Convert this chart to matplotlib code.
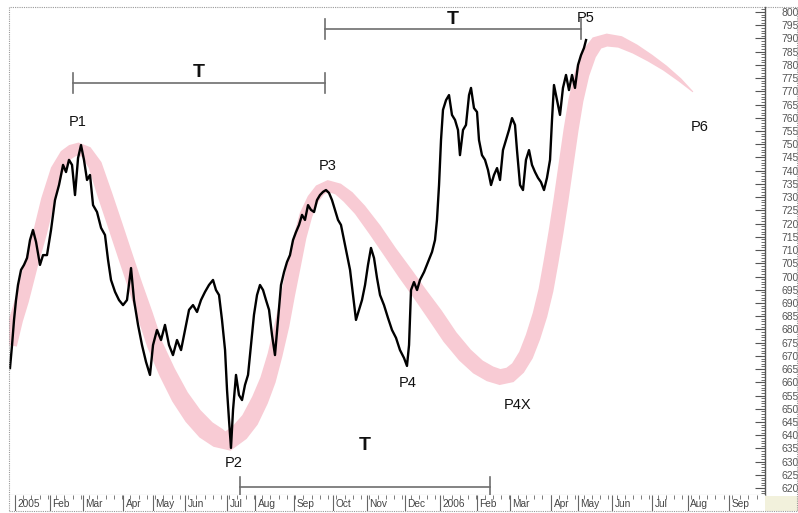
import numpy as np
import matplotlib
matplotlib.use('Agg')
import matplotlib.pyplot as plt
from matplotlib.patches import Rectangle

plt.rcParams['font.family'] = ['Liberation Sans', 'DejaVu Sans']

# Price series (x = weeks since start of Jan 2005)
weeks = [-0.61, -0.36, -0.12, 0.12, 0.36, 0.73, 1.09, 1.46, 1.82, 2.18,
         2.55, 3.03, 3.40, 3.88, 4.37, 4.85, 5.34, 5.83, 6.19, 6.55,
         6.92, 7.28, 7.65, 8.01, 8.37, 8.74, 9.10, 9.47, 9.95, 10.44,
         10.92, 11.29, 11.65, 12.14, 12.62, 13.11, 13.59, 14.08, 14.44, 14.93,
         15.41, 15.90, 16.38, 16.75, 17.23, 17.72, 18.20, 18.69, 19.17, 19.66,
         20.15, 20.63, 21.12, 21.60, 22.09, 22.57, 23.06, 23.54, 24.03, 24.39,
         24.76, 25.12, 25.49, 25.73, 25.97, 26.21, 26.46, 26.82, 27.18, 27.55,
         27.91, 28.28, 28.64, 29.00, 29.37, 29.73, 30.10, 30.46, 30.83, 31.19,
         31.55, 31.92, 32.28, 32.65, 33.01, 33.37, 33.74, 34.10, 34.47, 34.83,
         35.19, 35.56, 35.92, 36.29, 36.65, 37.01, 37.38, 37.74, 38.11, 38.47,
         38.83, 39.20, 39.56, 39.93, 40.29, 40.66, 41.02, 41.38, 41.75, 42.11,
         42.48, 42.84, 43.20, 43.57, 43.93, 44.30, 44.78, 45.27, 45.75, 46.24,
         46.72, 47.21, 47.57, 47.82, 48.06, 48.42, 48.79, 49.15, 49.64, 50.12,
         50.61, 50.97, 51.21, 51.46, 51.70, 51.94, 52.31, 52.67, 53.03, 53.40,
         53.76, 54.00, 54.37, 54.73, 55.10, 55.34, 55.70, 56.07, 56.31, 56.67,
         57.04, 57.40, 57.77, 58.13, 58.50, 58.86, 59.22, 59.59, 59.95, 60.32,
         60.68, 60.92, 61.29, 61.65, 62.01, 62.38, 62.74, 63.11, 63.47, 63.83,
         64.20, 64.56, 64.93, 65.17, 65.41, 65.78, 66.14, 66.50, 66.87, 67.23,
         67.60, 67.96, 68.33, 68.69, 69.05, 69.30]
close = [665.4, 674.1, 683.6, 691.1, 696.8, 702.5, 704.4, 707.0, 713.8, 717.6,
         713.1, 704.4, 708.1, 708.1, 717.6, 728.9, 734.6, 742.2, 739.5, 744.1,
         742.2, 730.8, 744.8, 749.7, 744.1, 736.5, 738.4, 727.0, 724.4, 718.4,
         715.7, 706.3, 698.7, 694.2, 691.1, 689.2, 691.1, 703.2, 691.1, 681.7,
         674.1, 667.7, 662.8, 674.1, 679.8, 676.0, 681.7, 674.1, 670.3, 676.0,
         672.2, 679.8, 687.4, 689.2, 686.6, 691.1, 694.2, 696.8, 698.7, 694.9,
         693.0, 683.6, 672.2, 657.1, 645.8, 635.2, 649.6, 662.8, 655.2, 653.3,
         659.0, 662.8, 674.1, 685.5, 693.0, 696.8, 694.9, 691.1, 687.4, 677.9,
         670.3, 683.6, 696.8, 701.7, 705.5, 708.1, 713.8, 716.8, 719.5, 723.3,
         721.4, 727.0, 725.2, 724.4, 728.9, 730.8, 732.0, 732.7, 731.6, 728.9,
         725.2, 721.4, 719.5, 713.8, 708.1, 702.5, 693.0, 683.6, 687.4, 691.1,
         696.8, 704.4, 710.8, 707.0, 699.5, 693.0, 689.2, 684.3, 679.8, 676.8,
         672.2, 669.2, 666.2, 674.1, 694.9, 697.9, 694.9, 698.7, 701.7, 705.5,
         709.3, 713.8, 721.4, 734.6, 751.6, 763.0, 766.7, 768.6, 761.1, 759.2,
         755.4, 745.9, 755.4, 757.3, 768.6, 771.3, 763.7, 762.2, 751.6, 745.9,
         744.1, 740.3, 734.6, 738.4, 741.0, 736.5, 747.8, 751.6, 755.4, 759.9,
         757.3, 747.8, 734.6, 732.7, 744.1, 747.8, 742.2, 739.5, 737.3, 735.7,
         732.7, 737.3, 744.1, 759.2, 772.4, 766.7, 761.1, 771.3, 776.2, 770.5,
         776.2, 771.3, 780.0, 783.7, 786.4, 789.4]

# Cycle band centre line
band_weeks = [-0.61, 0.12, 0.85, 1.94, 3.03, 4.00, 5.10, 6.19, 6.92, 7.65,
              8.62, 9.71, 10.92, 12.14, 13.35, 14.56, 15.78, 16.99, 18.45, 20.02,
              21.60, 23.18, 24.64, 25.85, 27.31, 28.52, 29.73, 30.70, 31.55, 32.40,
              33.13, 33.86, 34.59, 35.32, 36.17, 37.01, 37.99, 39.20, 40.41, 41.87,
              43.69, 45.51, 47.33, 49.15, 50.97, 52.79, 54.61, 56.19, 57.65, 58.86,
              60.07, 61.04, 62.01, 62.86, 63.71, 64.44, 65.05, 65.66, 66.26, 66.87,
              67.48, 68.08, 68.81, 69.66, 70.63, 71.84, 73.42, 75.24, 77.06, 78.88,
              80.70, 82.28]
band_price = [674.1, 683.6, 691.1, 704.4, 716.5, 728.9, 740.3, 745.9, 747.5, 748.2,
              747.1, 742.2, 730.8, 719.5, 708.1, 696.8, 685.5, 674.1, 663.9, 654.5,
              647.3, 642.0, 639.0, 637.8, 641.2, 645.8, 653.3, 660.9, 670.3, 681.7,
              693.0, 704.4, 715.0, 723.3, 729.3, 732.7, 734.2, 733.1, 730.1, 725.2,
              717.6, 709.3, 701.3, 693.4, 685.5, 677.1, 670.3, 665.8, 663.2, 662.0,
              662.8, 665.4, 670.3, 677.1, 685.5, 694.9, 705.5, 716.8, 728.9, 742.2,
              755.4, 766.7, 776.6, 784.1, 788.3, 789.4, 788.7, 786.0, 782.6, 778.8,
              774.3, 769.8]
# band thickness in pixels
band_width_px = [14, 14, 14, 14, 14, 14, 13, 13, 13, 13,
                 13, 14, 15, 15, 15, 15, 16, 16, 17, 18,
                 19, 20, 20, 20, 19, 18, 17, 16, 15, 15,
                 14, 14, 13, 13, 12, 12, 12, 12, 13, 13,
                 14, 14, 15, 15, 16, 16, 16, 16, 16, 16,
                 16, 15, 15, 15, 15, 15, 15, 15, 15, 15,
                 15, 15, 15, 15, 14, 13, 12, 10, 8, 6,
                 4, 1]

# Point labels
point_names = ['P1', 'P2', 'P3', 'P4', 'P4X', 'P5', 'P6']
point_weeks = [7.65, 26.58, 37.99, 47.69, 61.04, 69.30, 83.13]
point_price = [758.4, 629.5, 741.8, 659.8, 651.4, 797.7, 756.5]

# Period markers (start, end, level) and their T labels
period_start = [7.04, 37.62, 27.31]
period_end = [37.62, 68.69, 57.65]
period_level = [773.2, 793.6, 620.4]
period_label_price = [777.3, 797.0, 636.3]

# Date axis
month_labels = ['2005', 'Feb', 'Mar', 'Apr', 'May', 'Jun', 'Jul', 'Aug', 'Sep', 'Oct',
                'Nov', 'Dec', '2006', 'Feb', 'Mar', 'Apr', 'May', 'Jun', 'Jul', 'Aug', 'Sep']
month_weeks = [0, 4.25, 8.25, 13.11, 16.75, 20.63, 25.73, 29.13, 33.86, 38.59,
               42.72, 47.33, 51.58, 56.07, 60.07, 65.05, 68.33, 72.45, 77.31, 81.67, 86.65]

W, H = 798, 513
fig = plt.figure(figsize=(W / 100, H / 100), dpi=100)
ax = fig.add_axes([9 / W, 18 / H, 756 / W, 488 / H])
strip = fig.add_axes([9 / W, 2 / H, 756 / W, 16 / H])

xmin, xmax = -0.73, 91.02
ax.set_xlim(xmin, xmax)
ax.set_ylim(617.4, 801.9)
strip.set_xlim(xmin, xmax)
strip.set_ylim(0, 1)

# Pink cycle band: offset the centre line along its normal in pixel space
pts = ax.transData.transform(np.column_stack([band_weeks, band_price]))
d = np.gradient(pts, axis=0)
nrm = np.column_stack([-d[:, 1], d[:, 0]])
nrm /= np.hypot(nrm[:, 0], nrm[:, 1])[:, None]
half = np.asarray(band_width_px, dtype=float)[:, None] / 2
poly = np.vstack([pts + nrm * half, (pts - nrm * half)[::-1]])
poly = ax.transData.inverted().transform(poly)
ax.fill(poly[:, 0], poly[:, 1], color='#f8cbd4', lw=0, zorder=1)

# Price
ax.plot(weeks, close, color='black', lw=1.7, zorder=3)

# Period markers
tcol = '#6e6e6e'
for s, e, lv, lp in zip(period_start, period_end, period_level, period_label_price):
    ax.plot([s, e], [lv, lv], color=tcol, lw=1.2, zorder=4)
    ax.plot([s, s], [lv - 3.8, lv + 3.8], color=tcol, lw=1.2, zorder=4)
    ax.plot([e, e], [lv - 3.8, lv + 3.8], color=tcol, lw=1.2, zorder=4)
    ax.text((s + e) / 2, lp, 'T', ha='center', va='center', fontsize=14,
            fontweight='bold', color='#111111', zorder=5)

for name, w, p in zip(point_names, point_weeks, point_price):
    ax.text(w, p, name, ha='center', va='center', fontsize=10.5, color='#111111', zorder=5)

# Right price axis
ax.yaxis.tick_right()
ax.set_yticks(np.arange(620, 801, 5))
ax.set_yticks(np.arange(618, 802, 1), minor=True)
ax.tick_params(axis='y', which='major', direction='in', length=7, width=0.8,
               color='#555555', pad=12, labelsize=7.5, labelcolor='#555555')
ax.tick_params(axis='y', which='minor', direction='in', length=3, width=0.6,
               color='#555555')
ax.set_xticks([])
for side in ['left', 'top']:
    ax.spines[side].set_visible(False)
ax.spines['right'].set_color('#555555')
ax.spines['right'].set_linewidth(1.0)
ax.spines['bottom'].set_color('#999999')
ax.spines['bottom'].set_linestyle((0, (1, 1)))
ax.spines['bottom'].set_linewidth(0.8)

# Date strip
for sp in strip.spines.values():
    sp.set_visible(False)
strip.set_yticks([])
strip.xaxis.set_ticks_position('top')
strip.set_xticks(np.arange(0, 91, 1))
strip.tick_params(axis='x', direction='in', length=3, width=0.6, color='#666666',
                  labeltop=False, labelbottom=False)
strip.vlines(month_weeks, 0, 1, color='#666666', lw=0.8)
for lab, w in zip(month_labels, month_weeks):
    strip.text(w + 0.3, 0.42, lab, ha='left', va='center', fontsize=7.3, color='#444444')

# Outer dotted frame and corner box
fig.patches.append(Rectangle((765 / W, 2 / H), 33 / W, 15 / H, transform=fig.transFigure,
                             facecolor='#f2f1dc', edgecolor='none', zorder=0))
fig.patches.append(Rectangle((9 / W, 2 / H), 788 / W, 504 / H, transform=fig.transFigure,
                             fill=False, edgecolor='#999999', lw=0.8,
                             linestyle=(0, (1, 1)), zorder=10))

fig.savefig('out.png', dpi=100)
